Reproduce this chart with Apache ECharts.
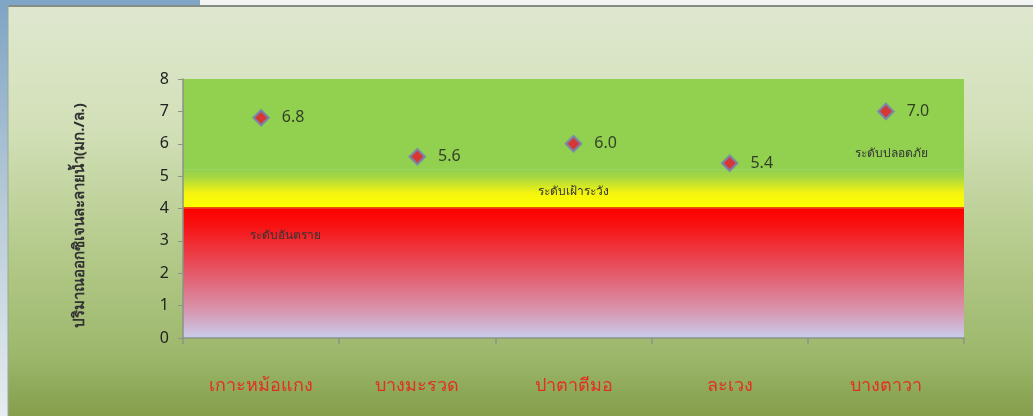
<!DOCTYPE html>
<html>
<head>
<meta charset="utf-8">
<script src="https://cdn.jsdelivr.net/npm/echarts@6/dist/echarts.min.js"></script>
<style>
html,body{margin:0;padding:0;background:#fff;}
#c{width:1033px;height:416px;}
</style>
</head>
<body>
<div id="c"></div>
<script>
// ---- data ----
var categories = ['เกาะหม้อแกง', 'บางมะรวด', 'ปาตาตีมอ', 'ละเวง', 'บางตาวา'];
var oxygenValues = [6.8, 5.6, 6.0, 5.4, 7.0];
var yTicks = [0, 1, 2, 3, 4, 5, 6, 7, 8];
var yAxisName = 'ปริมาณออกซิเจนละลายน้ำ(มก./ล.)';
var zoneNames = ['ระดับอันตราย', 'ระดับเฝ้าระวัง', 'ระดับปลอดภัย'];
var zoneBounds = [0, 4, 5.2, 8];

var chart = echarts.init(document.getElementById('c'));
var FONT = 'Noto Sans, DejaVu Sans, sans-serif';

var zoneFills = [
  new echarts.graphic.LinearGradient(0, 0, 0, 1, [
    {offset: 0, color: '#ff0000'},
    {offset: 0.12, color: '#f81010'},
    {offset: 0.5, color: '#e45a6a'},
    {offset: 0.78, color: '#d894ac'},
    {offset: 1, color: '#c8cdec'}
  ]),
  new echarts.graphic.LinearGradient(0, 0, 0, 1, [
    {offset: 0, color: '#92d050'},
    {offset: 0.2, color: '#a8d840'},
    {offset: 0.6, color: '#f4f410'},
    {offset: 0.95, color: '#ffff00'},
    {offset: 0.97, color: '#f06000'},
    {offset: 1, color: '#ff0000'}
  ]),
  '#92d050'
];
var zoneLabelStyles = [
  {position: 'insideTopLeft', offset: [62, 16], size: 12},
  {position: 'inside', offset: [0, 3], size: 12},
  {position: 'insideBottomRight', offset: [-31, -5], size: 12}
];

var areas = zoneNames.map(function (n, i) {
  return [
    {yAxis: zoneBounds[i], name: n, itemStyle: {color: zoneFills[i], opacity: 1},
     label: {show: true, position: zoneLabelStyles[i].position, offset: zoneLabelStyles[i].offset,
             color: '#333', fontSize: zoneLabelStyles[i].size, fontFamily: FONT}},
    {yAxis: zoneBounds[i + 1]}
  ];
});

var option = {
  animation: false,
  backgroundColor: 'transparent',
  graphic: [
    {type: 'rect', left: 0, top: 0, z: -10, shape: {width: 1033, height: 416},
     style: {fill: new echarts.graphic.LinearGradient(0, 0, 0, 1, [
       {offset: 0, color: '#7ea4c6'}, {offset: 0.5, color: '#b8cbd8'}, {offset: 1, color: '#e6ecef'}])}},
    {type: 'rect', left: 200, top: 0, z: -9, shape: {width: 833, height: 6}, style: {fill: '#f2f4f2'}},
    {type: 'rect', left: 8, top: 5, z: -8, shape: {width: 1025, height: 411},
     style: {fill: new echarts.graphic.LinearGradient(0, 0, 0, 1, [
       {offset: 0, color: '#dfe8cf'}, {offset: 0.3, color: '#d2e0b8'},
       {offset: 0.6, color: '#b4ca8a'}, {offset: 0.85, color: '#9db86c'}, {offset: 1, color: '#849e4c'}])}},
    {type: 'line', z: -7, shape: {x1: 8, y1: 6, x2: 1033, y2: 6}, style: {stroke: '#858b85', lineWidth: 2}},
    {type: 'line', z: -7, shape: {x1: 8, y1: 5, x2: 8, y2: 416}, style: {stroke: '#9aa69a', lineWidth: 1}}
  ],
  grid: {left: 183, right: 69, top: 79, bottom: 78, containLabel: false},
  xAxis: {
    type: 'category',
    data: categories,
    boundaryGap: true,
    axisLine: {show: true, lineStyle: {color: '#8a9488', width: 1.5}},
    axisTick: {show: true, length: 6, lineStyle: {color: '#8a9488', width: 1.5}},
    axisLabel: {color: '#e0301e', fontSize: 18, fontFamily: FONT, margin: 39}
  },
  yAxis: {
    type: 'value',
    min: yTicks[0], max: yTicks[yTicks.length - 1], interval: 1,
    name: yAxisName,
    nameLocation: 'middle',
    nameGap: 96,
    nameRotate: 90,
    nameTextStyle: {color: '#333', fontSize: 15, fontWeight: 'bold', fontFamily: FONT, padding: [0, 14, 0, 0]},
    axisLine: {show: true, lineStyle: {color: '#8a9488', width: 1.5}},
    axisTick: {show: true, length: 5, lineStyle: {color: '#8a9488'}},
    splitLine: {show: false},
    axisLabel: {color: '#222', fontSize: 16, fontFamily: FONT, margin: 14}
  },
  series: [{
    type: 'scatter',
    data: oxygenValues,
    symbol: 'diamond',
    symbolSize: 15,
    itemStyle: {color: '#e8102a', borderColor: '#7383b4', borderWidth: 2.5},
    label: {show: true, position: 'right', distance: 12, color: '#1a1a1a', fontSize: 16, fontFamily: FONT,
            formatter: function (p) { return p.value.toFixed(1); }},
    markArea: {silent: true, z: -1, data: areas},
    z: 5
  }]
};
chart.setOption(option);
</script>
</body>
</html>
